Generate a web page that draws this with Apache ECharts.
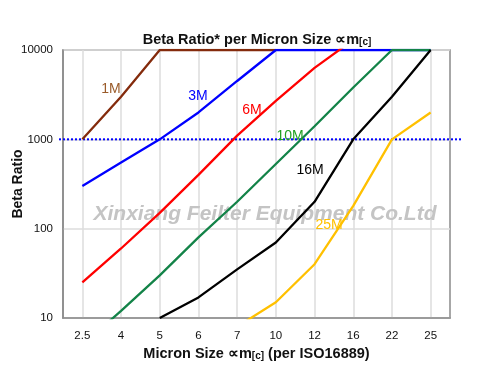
<!DOCTYPE html>
<html>
<head>
<meta charset="utf-8">
<script src="https://cdn.jsdelivr.net/npm/echarts@6/dist/echarts.min.js"></script>
<style>html,body{margin:0;padding:0;background:#fff;}#c{width:500px;height:371px;}</style>
</head>
<body>
<div id="c"></div>
<script>
const categories = ['2.5','4','5','6','7','10','12','16','22','25'];
const beta1M  = [1000, 3000, 10000, 10000, 10000, 10000, null, null, null, null];
const beta3M  = [300, 550, 1000, 2000, 4500, 10000, 10000, 10000, 10000, 10000];
const beta6M  = [25, 60, 150, 400, 1100, 2700, 6300, 13000, null, null];
const beta10M = [5, 12, 30, 80, 200, 530, 1400, 3800, 10000, 10000];
const beta16M = [null, null, 10, 17, 35, 70, 200, 1000, 3000, 10000];
const beta25M = [null, null, null, null, 8, 15, 40, 180, 1000, 2000];
const refLevel = 1000;
const seriesNames = ['1M','3M','6M','10M','16M','25M'];

const FONT = "'Liberation Sans', Arial, sans-serif";
const chart = echarts.init(document.getElementById('c'), null, {renderer: 'canvas'});

function lineSeries(name, data, color) {
  return {
    name: name, type: 'line', data: data, symbol: 'none', smooth: false,
    lineStyle: {color: color, width: 2.3}, itemStyle: {color: color},
    xAxisIndex: 0, yAxisIndex: 0, z: 3
  };
}

const labelStyle = (text, x, y, color) => ({
  type: 'text', x: x, y: y, z: 20,
  style: {text: text, fill: color, font: '14px ' + FONT, align: 'center', verticalAlign: 'middle'}
});

chart.setOption({
  animation: false,
  backgroundColor: '#fff',
  textStyle: {fontFamily: FONT},
  grid: [
    {left: 63, right: 50, top: 50, bottom: 53, containLabel: false, outerBoundsMode: 'none', show: true, borderColor: '#8a8a8a', borderWidth: 1.5, backgroundColor: 'transparent'},
    {left: 59, right: 38, top: 50, bottom: 53, containLabel: false, outerBoundsMode: 'none', show: false}
  ],
  xAxis: [
    {
      type: 'category', data: categories, boundaryGap: true, gridIndex: 0,
      axisLine: {show: true, lineStyle: {color: '#8a8a8a', width: 1.5}},
      axisTick: {show: false},
      axisLabel: {color: '#111', fontSize: 11.5, fontFamily: FONT, margin: 12},
      splitLine: {show: true, alignWithLabel: true, lineStyle: {color: '#dcdcdc', width: 1.5}},
      name: 'Micron Size ∝m{sub|[c]} (per ISO16889)',
      nameLocation: 'middle', nameGap: 28, nameMoveOverlap: false,
      nameTextStyle: {
        fontSize: 14.5, fontWeight: 'bold', color: '#111', fontFamily: FONT,
        rich: {sub: {fontSize: 10, fontWeight: 'bold', color: '#111', fontFamily: FONT, verticalAlign: 'bottom', lineHeight: 10}}
      }
    },
    {type: 'value', gridIndex: 1, min: 0, max: 1, show: false}
  ],
  yAxis: [
    {
      type: 'log', logBase: 10, min: 10, max: 10000, gridIndex: 0,
      axisLine: {show: true, lineStyle: {color: '#8a8a8a', width: 1.5}},
      axisTick: {show: false},
      axisLabel: {color: '#111', fontSize: 11.5, fontFamily: FONT, margin: 10, formatter: v => String(Math.round(v))},
      splitLine: {show: true, lineStyle: {color: '#dcdcdc', width: 1.5}},
      name: 'Beta Ratio', nameLocation: 'middle', nameGap: 38, nameRotate: 90, nameMoveOverlap: false,
      nameTextStyle: {fontSize: 14, fontWeight: 'bold', color: '#111', fontFamily: FONT}
    },
    {type: 'log', logBase: 10, min: 10, max: 10000, gridIndex: 1, show: false}
  ],
  series: [
    lineSeries(seriesNames[0], beta1M, '#842B0C'),
    lineSeries(seriesNames[1], beta3M, '#0000FF'),
    lineSeries(seriesNames[2], beta6M, '#FF0000'),
    lineSeries(seriesNames[3], beta10M, '#138348'),
    lineSeries(seriesNames[4], beta16M, '#000000'),
    lineSeries(seriesNames[5], beta25M, '#FFC000'),
    {
      name: 'ref', type: 'line', xAxisIndex: 1, yAxisIndex: 1, symbol: 'none', z: 2,
      data: [[0, refLevel], [1, refLevel]],
      lineStyle: {color: '#0000FF', width: 2, type: 'dotted'}
    }
  ],
  graphic: [
    {
      type: 'text', x: 257, y: 40, z: 20,
      style: {
        text: 'Beta Ratio* per Micron Size ∝m{sub|[c]}',
        font: 'bold 14.5px ' + FONT, fill: '#111', align: 'center', verticalAlign: 'middle',
        rich: {sub: {font: 'bold 10px ' + FONT, fill: '#111', verticalAlign: 'bottom', lineHeight: 10}}
      }
    },
    {
      type: 'text', x: 265, y: 214, z: 1,
      style: {text: 'Xinxiang Feilter Equipment Co.Ltd', font: 'italic bold 21px ' + FONT, fill: '#c4c4c4', align: 'center', verticalAlign: 'middle'}
    },
    labelStyle('1M', 111, 89, '#9A5B2A'),
    labelStyle('3M', 198, 96, '#0000FF'),
    labelStyle('6M', 252, 110, '#FF0000'),
    labelStyle('10M', 290, 136, '#22A022'),
    labelStyle('16M', 310, 170, '#000000'),
    labelStyle('25M', 329, 225, '#FFC000')
  ]
});
</script>
</body>
</html>
